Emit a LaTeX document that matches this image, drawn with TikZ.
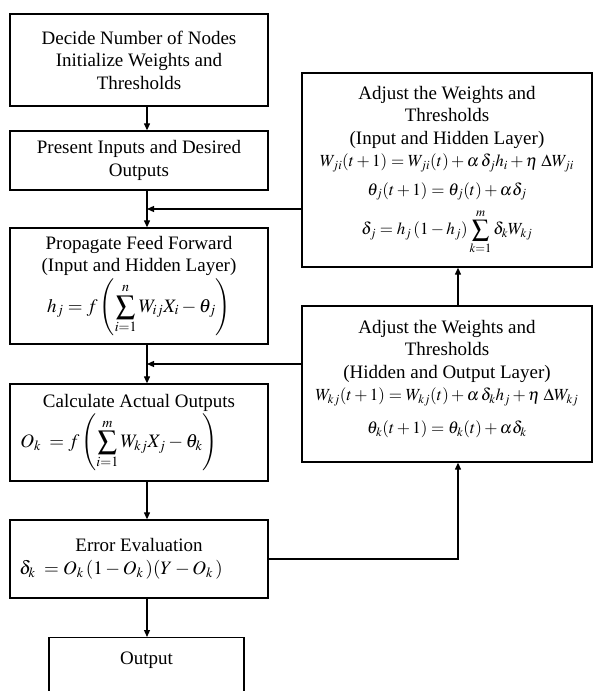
\documentclass[tikz,border=0pt]{standalone}
\usepackage{mathptmx}
\usepackage[no-math]{fontspec}
\setmainfont{Liberation Serif}
\usetikzlibrary{arrows.meta,calc,positioning}

\tikzset{
  blk/.style={draw, line width=1.3pt, align=center, inner sep=0pt, minimum width=258pt,
    font=\fontsize{19}{22.5}\selectfont},
  flow/.style={line width=1.2pt, -{Triangle[length=7pt,width=6pt]}}
}
\newcommand{\eqsm}[1]{{\fontsize{17}{21}\selectfont #1}}

\begin{document}
\begin{tikzpicture}[x=1pt,y=-1pt]
  \useasboundingbox (0,0) rectangle (593,691);
  % main column
  \node[blk, minimum height=92pt] (init) at (139,60) {Decide Number of Nodes\\Initialize Weights and\\Thresholds};
  \node[blk, minimum height=59pt] (present) at (139,160.5) {Present Inputs and Desired\\Outputs};
  \node[blk, minimum height=116pt] (prop) at (139,286) {Propagate Feed Forward\\(Input and Hidden Layer)\\[2pt]
    $h_j = f\left(\displaystyle\sum_{i=1}^{n} W_{ij}X_i - \theta_j\right)$};
  \node[blk, minimum height=97pt] (calc) at (139,432.5) {Calculate Actual Outputs\\[2pt]
    $O_k\; = f\left(\displaystyle\sum_{i=1}^{m} W_{kj}X_j - \theta_k\right)$\hspace*{40pt}};
  \node[blk, minimum height=78pt] (err) at (139,559) {Error Evaluation\\
    $\delta_k\; = O_k\,(1-O_k\,)(Y-O_k\,)$\hspace*{36pt}};
  \node[blk, minimum width=195pt, text height=27pt, text depth=41pt, anchor=north] (out) at (146.5,637) {Output};
  % weight updates
  \node[blk, minimum width=290pt, minimum height=194pt] (adjIH) at (447,170) {Adjust the Weights and\\Thresholds\\(Input and Hidden Layer)\\
    \eqsm{$W_{ji}(t+1) = W_{ji}(t) + \alpha\,\delta_j h_i + \eta\;\Delta W_{ji}$}\\[6pt]
    \eqsm{$\theta_j(t+1) = \theta_j(t) + \alpha\delta_j$}\\[8pt]
    \eqsm{$\delta_j = h_j\left(1-h_j\right)\displaystyle\sum_{k=1}^{m}\delta_k W_{kj}$}};
  \node[blk, minimum width=290pt, minimum height=156pt] (adjHO) at (447,384) {Adjust the Weights and\\Thresholds\\(Hidden and Output Layer)\\
    \eqsm{$W_{kj}(t+1) = W_{kj}(t) + \alpha\,\delta_k h_j + \eta\;\Delta W_{kj}$}\\[10pt]
    \eqsm{$\theta_k(t+1) = \theta_k(t) + \alpha\delta_k$}\\[-8pt]};
  % connectors
  \coordinate (col) at (147,0);
  \coordinate (ret) at (458,0);
  \coordinate (j1) at (147,209);
  \coordinate (j2) at (147,364);
  \draw[flow] (init.south -| col) -- (present.north -| col);
  \draw[flow] (present.south -| col) -- (prop.north -| col);
  \draw[flow] (prop.south -| col) -- (calc.north -| col);
  \draw[flow] (calc.south -| col) -- (err.north -| col);
  \draw[flow] (err.south -| col) -- (out.north -| col);
  \draw[flow] (adjIH.west |- j1) -- (j1);
  \draw[flow] (adjHO.west |- j2) -- (j2);
  \draw[flow] (err.east) -- (err.east -| ret) -- (adjHO.south -| ret);
  \draw[flow] (adjHO.north -| ret) -- (adjIH.south -| ret);
\end{tikzpicture}
\end{document}
